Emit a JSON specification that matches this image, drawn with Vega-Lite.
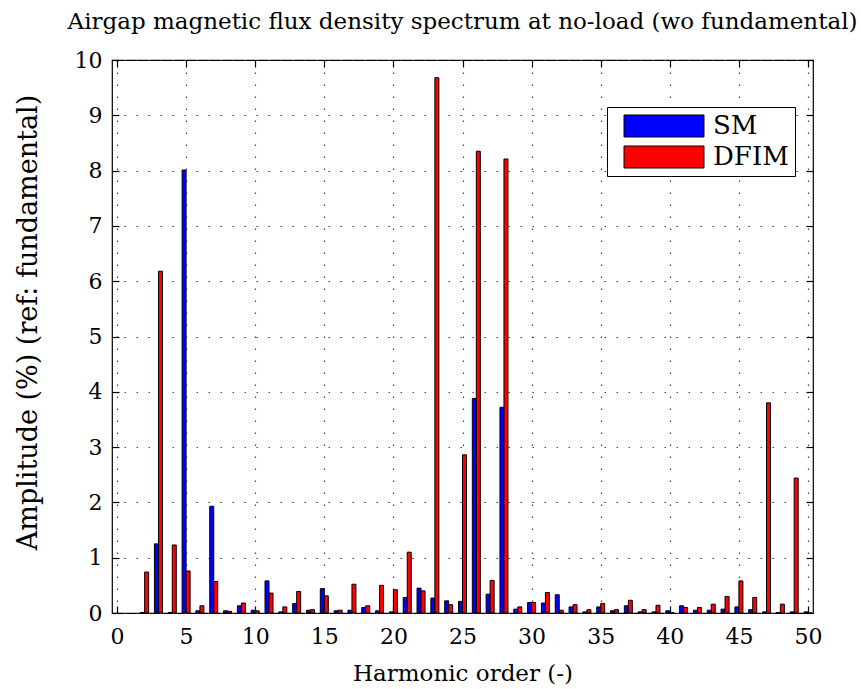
{
  "$schema": "https://vega.github.io/schema/vega-lite/v6.json",
  "autosize": "none",
  "width": 701,
  "height": 553,
  "padding": {"left": 112, "top": 60, "right": 48, "bottom": 76},
  "background": "white",
  "config": {
    "font": "DejaVu Serif",
    "view": {"stroke": "black", "strokeWidth": 1.2},
    "axis": {
      "labelFont": "DejaVu Serif", "titleFont": "DejaVu Serif",
      "labelFontSize": 22, "labelColor": "black", "titleColor": "black",
      "titleFontWeight": "normal", "domain": false, "tickColor": "black", "tickSize": -7, "tickWidth": 1.2,
      "grid": true, "gridColor": "#444", "gridDash": [1.5, 10.5], "gridWidth": 1.2
    }
  },
  "title": {"text": "Airgap magnetic flux density spectrum at no-load (wo fundamental)", "font": "DejaVu Serif", "fontSize": 23, "fontWeight": "normal", "color": "black", "offset": 15, "anchor": "middle"},
  "data": {"values": [
    {"n": 2, "SM": 0.01, "DFIM": 0.74},
    {"n": 3, "SM": 1.25, "DFIM": 6.18},
    {"n": 4, "SM": 0.01, "DFIM": 1.23},
    {"n": 5, "SM": 8.01, "DFIM": 0.76},
    {"n": 6, "SM": 0.04, "DFIM": 0.13},
    {"n": 7, "SM": 1.93, "DFIM": 0.57},
    {"n": 8, "SM": 0.04, "DFIM": 0.03},
    {"n": 9, "SM": 0.13, "DFIM": 0.18},
    {"n": 10, "SM": 0.05, "DFIM": 0.04},
    {"n": 11, "SM": 0.58, "DFIM": 0.36},
    {"n": 12, "SM": 0.02, "DFIM": 0.11},
    {"n": 13, "SM": 0.17, "DFIM": 0.39},
    {"n": 14, "SM": 0.05, "DFIM": 0.06},
    {"n": 15, "SM": 0.44, "DFIM": 0.31},
    {"n": 16, "SM": 0.04, "DFIM": 0.05},
    {"n": 17, "SM": 0.05, "DFIM": 0.52},
    {"n": 18, "SM": 0.10, "DFIM": 0.13},
    {"n": 19, "SM": 0.04, "DFIM": 0.50},
    {"n": 20, "SM": 0.02, "DFIM": 0.42},
    {"n": 21, "SM": 0.28, "DFIM": 1.10},
    {"n": 22, "SM": 0.45, "DFIM": 0.40},
    {"n": 23, "SM": 0.27, "DFIM": 9.68},
    {"n": 24, "SM": 0.22, "DFIM": 0.15},
    {"n": 25, "SM": 0.21, "DFIM": 2.86},
    {"n": 26, "SM": 3.88, "DFIM": 8.35},
    {"n": 27, "SM": 0.34, "DFIM": 0.59},
    {"n": 28, "SM": 3.72, "DFIM": 8.21},
    {"n": 29, "SM": 0.07, "DFIM": 0.11},
    {"n": 30, "SM": 0.19, "DFIM": 0.19},
    {"n": 31, "SM": 0.18, "DFIM": 0.37},
    {"n": 32, "SM": 0.33, "DFIM": 0.05},
    {"n": 33, "SM": 0.11, "DFIM": 0.15},
    {"n": 34, "SM": 0.02, "DFIM": 0.06},
    {"n": 35, "SM": 0.11, "DFIM": 0.17},
    {"n": 36, "SM": 0.04, "DFIM": 0.06},
    {"n": 37, "SM": 0.13, "DFIM": 0.23},
    {"n": 38, "SM": 0.02, "DFIM": 0.06},
    {"n": 39, "SM": 0.02, "DFIM": 0.14},
    {"n": 40, "SM": 0.04, "DFIM": 0.01},
    {"n": 41, "SM": 0.13, "DFIM": 0.10},
    {"n": 42, "SM": 0.05, "DFIM": 0.10},
    {"n": 43, "SM": 0.05, "DFIM": 0.16},
    {"n": 44, "SM": 0.07, "DFIM": 0.30},
    {"n": 45, "SM": 0.11, "DFIM": 0.58},
    {"n": 46, "SM": 0.06, "DFIM": 0.28},
    {"n": 47, "SM": 0.02, "DFIM": 3.80},
    {"n": 48, "SM": 0.01, "DFIM": 0.16},
    {"n": 49, "SM": 0.02, "DFIM": 2.44},
    {"n": 50, "SM": 0.02, "DFIM": 0}
  ]},
  "layer": [
    {
      "mark": {"type": "bar", "width": 4, "xOffset": -2, "stroke": "black", "strokeWidth": 1, "clip": true},
      "encoding": {
        "x": {"field": "n", "type": "quantitative", "scale": {"domain": [0, 50], "nice": false, "zero": false},
          "axis": {"values": [0, 5, 10, 15, 20, 25, 30, 35, 40, 45, 50], "title": "Harmonic order (-)", "titleFontSize": 23, "titlePadding": 15, "labelPadding": 20}},
        "y": {"field": "SM", "type": "quantitative", "scale": {"domain": [0, 10], "nice": false},
          "axis": {"values": [0, 1, 2, 3, 4, 5, 6, 7, 8, 9, 10], "title": "Amplitude (%) (ref: fundamental)", "titleFontSize": 27, "titlePadding": 32, "titleY": 262, "labelPadding": 17}},
        "color": {"datum": "SM", "type": "nominal",
          "scale": {"domain": ["SM", "DFIM"], "range": ["#0000ff", "#ff0000"]},
          "legend": {"title": null, "orient": "none", "legendX": 495, "legendY": 47,
            "symbolType": "M-0.18,-1H7.09V1H-0.18Z", "symbolSize": 484, "symbolStrokeColor": "black", "symbolStrokeWidth": 1,
            "labelFont": "DejaVu Serif", "labelFontSize": 26, "labelColor": "black", "labelOffset": 74,
            "rowPadding": 5, "padding": 6, "strokeColor": "black", "fillColor": "white", "symbolOpacity": 1}}
      }
    },
    {
      "mark": {"type": "bar", "width": 4, "xOffset": 2, "stroke": "black", "strokeWidth": 1, "clip": true},
      "encoding": {
        "x": {"field": "n", "type": "quantitative", "axis": null},
        "y": {"field": "DFIM", "type": "quantitative", "axis": null},
        "color": {"datum": "DFIM", "type": "nominal"}
      }
    },
    {
      "mark": {"type": "rule", "opacity": 0},
      "encoding": {
        "x": {"datum": 0, "type": "quantitative", "axis": {"orient": "top", "values": [0, 5, 10, 15, 20, 25, 30, 35, 40, 45, 50], "labels": false, "grid": false, "title": null}},
        "y": {"datum": 0, "type": "quantitative", "axis": {"orient": "right", "values": [0, 1, 2, 3, 4, 5, 6, 7, 8, 9, 10], "labels": false, "grid": false, "title": null}}
      }
    }
  ],
  "resolve": {"scale": {"x": "shared", "y": "shared"}, "axis": {"x": "independent", "y": "independent"}}
}
